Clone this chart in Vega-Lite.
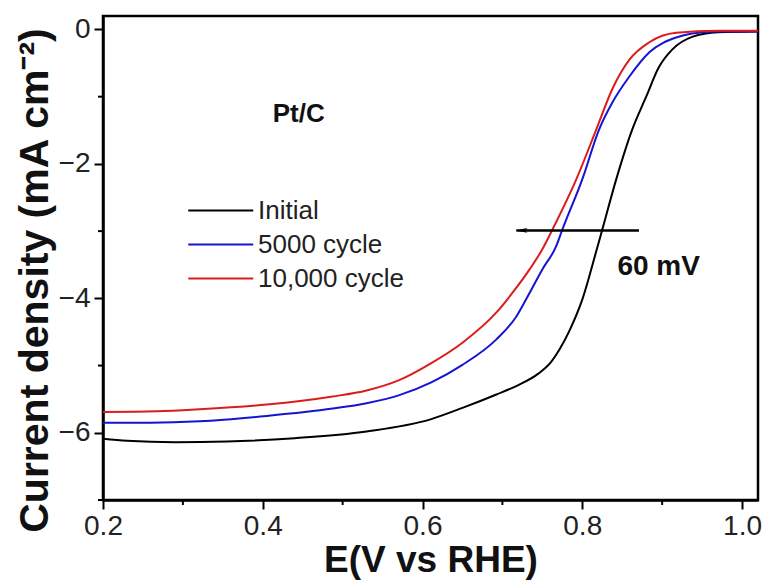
{
  "$schema": "https://vega.github.io/schema/vega-lite/v6.json",
  "autosize": {"type": "none"},
  "padding": {"left": 103, "top": 16, "right": 10, "bottom": 81},
  "width": 655,
  "height": 484,
  "background": "white",
  "config": {
    "font": "Liberation Sans",
    "view": {"stroke": "black", "strokeWidth": 2.5},
    "axis": {
      "domainColor": "black",
      "domainWidth": 2.5,
      "grid": false,
      "labelColor": "#222",
      "labelFontSize": 28,
      "labelFont": "Liberation Sans",
      "titleFont": "Liberation Sans",
      "titleColor": "#111",
      "titleFontWeight": "bold"
    }
  },
  "datasets": {
    "curves": [
      {"E": 0.20, "j": -6.09, "series": "Initial"},
      {"E": 0.23, "j": -6.12, "series": "Initial"},
      {"E": 0.29, "j": -6.14, "series": "Initial"},
      {"E": 0.355, "j": -6.13, "series": "Initial"},
      {"E": 0.44, "j": -6.08, "series": "Initial"},
      {"E": 0.53, "j": -5.98, "series": "Initial"},
      {"E": 0.61, "j": -5.80, "series": "Initial"},
      {"E": 0.65, "j": -5.63, "series": "Initial"},
      {"E": 0.6925, "j": -5.43, "series": "Initial"},
      {"E": 0.72, "j": -5.29, "series": "Initial"},
      {"E": 0.745, "j": -5.12, "series": "Initial"},
      {"E": 0.76, "j": -4.96, "series": "Initial"},
      {"E": 0.772, "j": -4.75, "series": "Initial"},
      {"E": 0.784, "j": -4.48, "series": "Initial"},
      {"E": 0.80, "j": -4.02, "series": "Initial"},
      {"E": 0.8175, "j": -3.30, "series": "Initial"},
      {"E": 0.825, "j": -2.98, "series": "Initial"},
      {"E": 0.8425, "j": -2.23, "series": "Initial"},
      {"E": 0.8625, "j": -1.49, "series": "Initial"},
      {"E": 0.88, "j": -1.00, "series": "Initial"},
      {"E": 0.896, "j": -0.56, "series": "Initial"},
      {"E": 0.9125, "j": -0.30, "series": "Initial"},
      {"E": 0.9375, "j": -0.11, "series": "Initial"},
      {"E": 0.97, "j": -0.04, "series": "Initial"},
      {"E": 1.02, "j": -0.03, "series": "Initial"},

      {"E": 0.20, "j": -5.85, "series": "5000 cycle"},
      {"E": 0.26, "j": -5.85, "series": "5000 cycle"},
      {"E": 0.321, "j": -5.83, "series": "5000 cycle"},
      {"E": 0.405, "j": -5.75, "series": "5000 cycle"},
      {"E": 0.4875, "j": -5.64, "series": "5000 cycle"},
      {"E": 0.53, "j": -5.56, "series": "5000 cycle"},
      {"E": 0.571, "j": -5.44, "series": "5000 cycle"},
      {"E": 0.611, "j": -5.25, "series": "5000 cycle"},
      {"E": 0.65, "j": -4.99, "series": "5000 cycle"},
      {"E": 0.6925, "j": -4.61, "series": "5000 cycle"},
      {"E": 0.7175, "j": -4.27, "series": "5000 cycle"},
      {"E": 0.734, "j": -3.92, "series": "5000 cycle"},
      {"E": 0.75, "j": -3.57, "series": "5000 cycle"},
      {"E": 0.7675, "j": -3.22, "series": "5000 cycle"},
      {"E": 0.775, "j": -2.98, "series": "5000 cycle"},
      {"E": 0.80, "j": -2.23, "series": "5000 cycle"},
      {"E": 0.821, "j": -1.49, "series": "5000 cycle"},
      {"E": 0.8375, "j": -1.09, "series": "5000 cycle"},
      {"E": 0.859, "j": -0.70, "series": "5000 cycle"},
      {"E": 0.884, "j": -0.34, "series": "5000 cycle"},
      {"E": 0.9175, "j": -0.12, "series": "5000 cycle"},
      {"E": 0.9375, "j": -0.06, "series": "5000 cycle"},
      {"E": 0.97, "j": -0.03, "series": "5000 cycle"},
      {"E": 1.02, "j": -0.03, "series": "5000 cycle"},

      {"E": 0.20, "j": -5.69, "series": "10,000 cycle"},
      {"E": 0.2675, "j": -5.68, "series": "10,000 cycle"},
      {"E": 0.321, "j": -5.65, "series": "10,000 cycle"},
      {"E": 0.405, "j": -5.58, "series": "10,000 cycle"},
      {"E": 0.4875, "j": -5.46, "series": "10,000 cycle"},
      {"E": 0.53, "j": -5.37, "series": "10,000 cycle"},
      {"E": 0.57, "j": -5.22, "series": "10,000 cycle"},
      {"E": 0.61, "j": -4.97, "series": "10,000 cycle"},
      {"E": 0.65, "j": -4.66, "series": "10,000 cycle"},
      {"E": 0.6925, "j": -4.21, "series": "10,000 cycle"},
      {"E": 0.7125, "j": -3.92, "series": "10,000 cycle"},
      {"E": 0.734, "j": -3.57, "series": "10,000 cycle"},
      {"E": 0.75, "j": -3.27, "series": "10,000 cycle"},
      {"E": 0.7625, "j": -2.98, "series": "10,000 cycle"},
      {"E": 0.7925, "j": -2.23, "series": "10,000 cycle"},
      {"E": 0.8175, "j": -1.49, "series": "10,000 cycle"},
      {"E": 0.8375, "j": -0.89, "series": "10,000 cycle"},
      {"E": 0.859, "j": -0.45, "series": "10,000 cycle"},
      {"E": 0.884, "j": -0.19, "series": "10,000 cycle"},
      {"E": 0.9175, "j": -0.05, "series": "10,000 cycle"},
      {"E": 0.97, "j": -0.02, "series": "10,000 cycle"},
      {"E": 1.02, "j": -0.02, "series": "10,000 cycle"}
    ],
    "minorE": [{"E": 0.3}, {"E": 0.5}, {"E": 0.7}, {"E": 0.9}],
    "minorJ": [{"j": -1}, {"j": -3}, {"j": -5}, {"j": -7}],
    "shift": [
      {"E_from": 0.871, "E_to": 0.7175, "j": -2.99, "head": 0.7238}
    ],
    "notes": [
      {"E": 0.4125, "j": -1.26, "text": "Pt/C", "size": 26},
      {"E": 0.844, "j": -3.54, "text": "60 mV", "size": 28}
    ]
  },
  "layer": [
    {
      "data": {"name": "curves"},
      "mark": {"type": "line", "strokeWidth": 2, "interpolate": "monotone", "clip": true},
      "encoding": {
        "x": {
          "field": "E", "type": "quantitative",
          "scale": {"domain": [0.2, 1.02], "nice": false, "zero": false},
          "axis": {
            "title": "E(V vs RHE)",
            "titleFontSize": 37,
            "titlePadding": 2,
            "tickCount": 5,
            "format": ".1f",
            "labelPadding": 3,
            "labelFlush": false,
            "ticks": true,
            "tickSize": 9,
            "tickWidth": 2,
            "tickColor": "black"
          }
        },
        "y": {
          "field": "j", "type": "quantitative",
          "scale": {"domain": [-7, 0.2], "nice": false, "zero": false},
          "axis": {
            "title": "Current density (mA cm⁻²)",
            "titleFontSize": 41,
            "titlePadding": 2,
            "titleY": 264,
            "tickCount": 4,
            "format": "d",
            "labelPadding": 4,
            "labelFlush": false,
            "ticks": true,
            "tickSize": 9,
            "tickWidth": 2,
            "tickColor": "black"
          }
        },
        "color": {
          "field": "series", "type": "nominal",
          "scale": {"domain": ["Initial", "5000 cycle", "10,000 cycle"], "range": ["#000000", "#1414d2", "#dc1c1c"]},
          "legend": {
            "title": null,
            "orient": "none",
            "legendX": 84,
            "legendY": 177,
            "symbolType": "M-1,0H3",
            "symbolSize": 1056,
            "symbolStrokeWidth": 2,
            "symbolFillColor": "transparent",
            "labelFontSize": 26,
            "labelColor": "#222",
            "labelFont": "Liberation Sans",
            "labelOffset": 36,
            "rowPadding": 3
          }
        },
        "order": {"field": "E", "type": "quantitative"}
      }
    },
    {
      "data": {"name": "minorE"},
      "mark": {"type": "rule", "color": "black", "strokeWidth": 2, "y2Offset": 5},
      "encoding": {
        "x": {"field": "E", "type": "quantitative"},
        "y": {"datum": -7},
        "y2": {"datum": -7}
      }
    },
    {
      "data": {"name": "minorJ"},
      "mark": {"type": "rule", "color": "black", "strokeWidth": 2, "x2Offset": -5},
      "encoding": {
        "y": {"field": "j", "type": "quantitative"},
        "x": {"datum": 0.2},
        "x2": {"datum": 0.2}
      }
    },
    {
      "data": {"name": "shift"},
      "mark": {"type": "rule", "color": "black", "strokeWidth": 2.5},
      "encoding": {
        "x": {"field": "E_from", "type": "quantitative"},
        "x2": {"field": "E_to"},
        "y": {"field": "j", "type": "quantitative"}
      }
    },
    {
      "data": {"name": "shift"},
      "mark": {"type": "point", "shape": "M-1,0L1,-0.4L0.6,0L1,0.4Z", "filled": true, "color": "black", "opacity": 1, "size": 144},
      "encoding": {
        "x": {"field": "head", "type": "quantitative"},
        "y": {"field": "j", "type": "quantitative"}
      }
    },
    {
      "data": {"name": "notes"},
      "mark": {"type": "text", "align": "left", "baseline": "middle", "fontWeight": "bold", "font": "Liberation Sans", "color": "#111"},
      "encoding": {
        "x": {"field": "E", "type": "quantitative"},
        "y": {"field": "j", "type": "quantitative"},
        "text": {"field": "text"},
        "size": {"field": "size", "type": "quantitative", "scale": null}
      }
    }
  ]
}
